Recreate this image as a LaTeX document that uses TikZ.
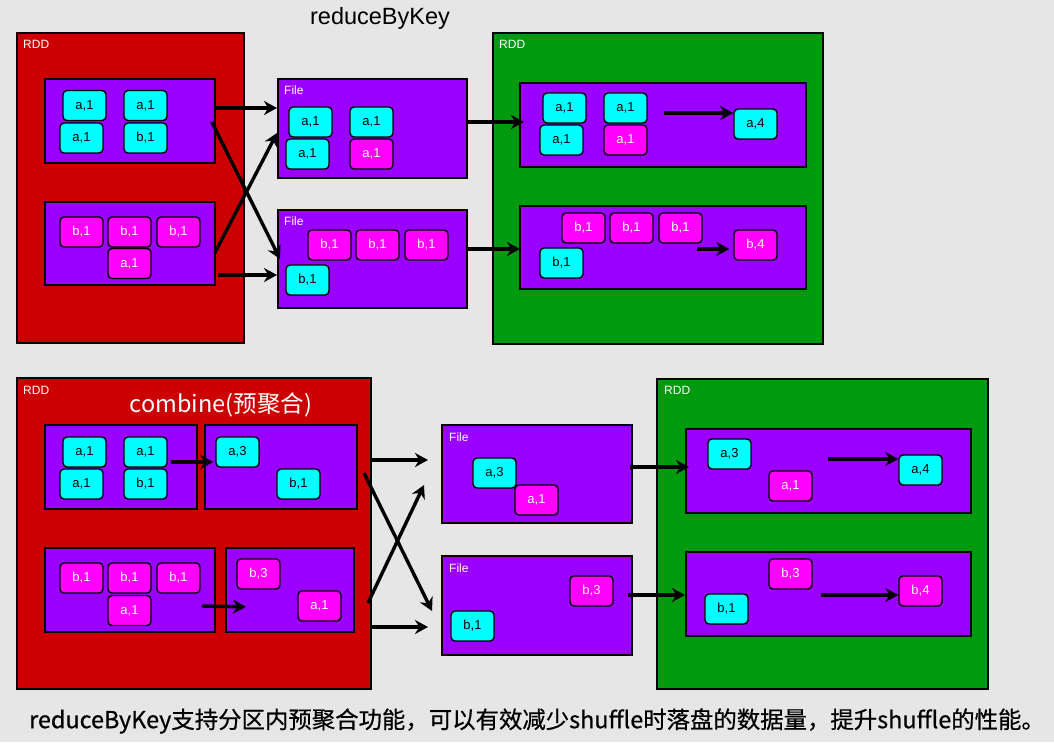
\documentclass[tikz,border=0pt]{standalone}
\usepackage{fontspec}
\setmainfont{Liberation Sans}
\newfontfamily\cjk{Noto Sans CJK SC}
\newfontfamily\cjkb[FakeBold=0.6]{Noto Sans CJK SC}
\usetikzlibrary{arrows.meta,calc}
\definecolor{bg}{HTML}{E6E6E6}
\definecolor{rddred}{HTML}{CC0000}
\definecolor{rddgreen}{HTML}{009A0F}
\definecolor{purp}{HTML}{9900FF}
\definecolor{cy}{HTML}{00FFFF}
\definecolor{mg}{HTML}{FF00FF}
\newcommand\bx[6]{\node[#1, minimum width=#4pt, minimum height=#5pt] (#6) at (#2,#3) {};}
\newcommand\cc[4]{\node[chipC] (#1) at (#2,#3) {#4};}
\newcommand\cm[4]{\node[chipM] (#1) at (#2,#3) {#4};}
\begin{document}
\begin{tikzpicture}[x=1pt,y=-1pt,
  redbox/.style={draw=black,line width=2pt,fill=rddred,anchor=north west,inner sep=0pt},
  greenbox/.style={draw=black,line width=2pt,fill=rddgreen,anchor=north west,inner sep=0pt},
  partbox/.style={draw=black,line width=1.8pt,fill=purp,anchor=north west,inner sep=0pt},
  chipC/.style={draw=black,line width=1.4pt,rounded corners=4pt,fill=cy,text=black,
    minimum width=43pt,minimum height=30pt,inner sep=0pt,font=\fontsize{13}{14}\selectfont},
  chipM/.style={chipC,fill=mg,text=white},
  lbl/.style={text=white,anchor=west,inner sep=0pt,font=\fontsize{12}{13}\selectfont},
  arr/.style={line width=3.4pt,-{Stealth[length=13pt,width=14pt]}},
]
\fill[bg] (0,0) rectangle (1054,742);
\useasboundingbox (0,0) rectangle (1054,742);

% ---------- top ----------
\node (title) at (380,18) {\fontsize{23.5}{26}\selectfont reduceByKey};
\bx{redbox}{16}{32}{227}{310}{R1}
\node[lbl] (R1l) at (23,44) {RDD};
\bx{partbox}{44}{78}{170}{84}{p1}
\bx{partbox}{44}{201}{170}{83}{p2}
\bx{partbox}{277}{78}{189}{99}{f1}
\node[lbl] (f1l) at (284,90) {File};
\bx{partbox}{277}{209}{189}{98}{f2}
\node[lbl] (f2l) at (284,221) {File};
\bx{greenbox}{492}{32}{330}{311}{G1}
\node[lbl] (G1l) at (499,44) {RDD};
\bx{partbox}{519}{82}{286}{84}{g1}
\bx{partbox}{519}{205}{286}{83}{g2}

\cc{pa}{84.5}{105.5}{a,1}
\cc{pb}{145.5}{105.5}{a,1}
\cc{pc}{81.5}{138}{a,1}
\cc{pd}{145.5}{138}{b,1}
\cm{qa}{81.5}{232}{b,1}
\cm{qb}{129.5}{232}{b,1}
\cm{qc}{178.5}{232}{b,1}
\cm{qd}{129.5}{263.5}{a,1}

\cc{fa}{310.5}{122}{a,1}
\cc{fb}{371.5}{122}{a,1}
\cc{fc}{307.5}{154}{a,1}
\cm{fd}{371.5}{154}{a,1}
\cm{ga}{329.5}{245}{b,1}
\cm{gb}{377.5}{245}{b,1}
\cm{gc}{426.5}{245}{b,1}
\cc{gd}{307.5}{280}{b,1}

\cc{ha}{564.5}{108}{a,1}
\cc{hb}{625.5}{108}{a,1}
\cc{hc}{561.5}{140}{a,1}
\cm{hd}{625.5}{140}{a,1}
\cc{he}{755.5}{124}{a,4}
\cm{ia}{583.5}{228}{b,1}
\cm{ib}{631.5}{228}{b,1}
\cm{ic}{680.5}{228}{b,1}
\cc{id}{561.5}{263}{b,1}
\cm{ie}{755.5}{245}{b,4}

\draw[arr] ([yshift=-30pt]p1.north east) -- ([yshift=-30pt]f1.north west);
\draw[arr] ([xshift=-4pt,yshift=-44pt]p1.north east) -- ([xshift=3pt,yshift=-50pt]f2.north west);
\draw[arr] ([xshift=-1pt,yshift=-52pt]p2.north east) -- ([yshift=-55pt]f1.north west);
\draw[arr] ([xshift=2pt,yshift=-74pt]p2.north east) -- ([yshift=-66pt]f2.north west);
\draw[arr] ([yshift=-44pt]f1.north east) -- ([xshift=5pt,yshift=-40pt]g1.north west);
\draw[arr] ([yshift=-40pt]f2.north east) -- ([xshift=1pt,yshift=-44pt]g2.north west);
\draw[arr] ([xshift=16pt,yshift=-5pt]hb.east) -- ([yshift=11pt]he.west);
\coordinate (g2s) at (697,249);
\draw[arr] (g2s) -- ([xshift=-4pt,yshift=-4pt]ie.west);

% ---------- bottom ----------
\bx{redbox}{16}{377}{354}{311}{R2}
\node[lbl] (R2l) at (23,390) {RDD};
\node[text=white] (comb) at (221,405) {\cjk\fontsize{23.5}{25}\selectfont combine(预聚合)};
\bx{partbox}{44}{424}{152}{84}{A}
\bx{partbox}{204}{424}{152}{84}{B}
\bx{partbox}{44}{547}{170}{84}{C}
\bx{partbox}{225}{547}{128}{84}{D}
\bx{partbox}{441}{424}{190}{98}{F1}
\node[lbl] (F1l) at (449,437) {File};
\bx{partbox}{441}{555}{190}{99}{F2}
\node[lbl] (F2l) at (449,568) {File};
\bx{greenbox}{656}{378}{331}{310}{G2}
\node[lbl] (G2l) at (664,390) {RDD};
\bx{partbox}{685}{428}{285}{84}{h1}
\bx{partbox}{685}{551}{285}{84}{h2}

\cc{Aa}{84.5}{452}{a,1}
\cc{Ab}{145.5}{452}{a,1}
\cc{Ac}{81.5}{484}{a,1}
\cc{Ad}{145.5}{484}{b,1}
\cc{Ba}{237.5}{452}{a,3}
\cc{Bb}{298.5}{484}{b,1}
\cm{Ca}{81.5}{578}{b,1}
\cm{Cb}{129.5}{578}{b,1}
\cm{Cc}{178.5}{578}{b,1}
\cm{Cd}{129.5}{610.5}{a,1}
\cm{Da}{258.5}{574}{b,3}
\cm{Db}{319.5}{606}{a,1}

\cc{Fa}{494.5}{473}{a,3}
\cm{Fb}{536.5}{500}{a,1}
\cm{Fc}{591.5}{591}{b,3}
\cc{Fd}{472.5}{626}{b,1}

\cc{Ha}{729.5}{454}{a,3}
\cm{Hb}{790.5}{486}{a,1}
\cc{Hc}{920.5}{470}{a,4}
\cm{Ia}{790.5}{574}{b,3}
\cc{Ib}{726.5}{609}{b,1}
\cm{Ic}{920.5}{591}{b,4}

\draw[arr] ([xshift=3pt,yshift=-10pt]Ab.east) -- ([xshift=-2pt,yshift=-10pt]Ba.west);
\coordinate (cs) at (202,606);
\draw[arr] (cs) -- ([xshift=21pt,yshift=-17pt]D.west);
\draw[arr] ([yshift=-83pt]R2.north east) -- ([xshift=-13pt,yshift=-36pt]F1.north west);
\draw[arr] ([xshift=-8pt,yshift=-96pt]R2.north east) -- ([xshift=-9pt,yshift=-56pt]F2.north west);
\draw[arr] ([xshift=-4pt,yshift=-226pt]R2.north east) -- ([xshift=-17pt,yshift=-61pt]F1.north west);
\draw[arr] ([yshift=-250pt]R2.north east) -- ([xshift=-13pt,yshift=-72pt]F2.north west);
\draw[arr] ([xshift=-3pt,yshift=-43pt]F1.north east) -- ([xshift=4pt,yshift=-39pt]h1.north west);
\draw[arr] ([xshift=-5pt,yshift=-40pt]F2.north east) -- ([yshift=-44pt]h2.north west);
\coordinate (h1s) at (828,459);
\draw[arr] (h1s) -- ([yshift=11pt]Hc.west);
\coordinate (h2s) at (821,595);
\draw[arr] (h2s) -- ([yshift=-4pt]Ic.west);

\node (cap) at (537,721) {\cjkb\fontsize{23.4}{25}\selectfont reduceByKey支持分区内预聚合功能，可以有效减少shuffle时落盘的数据量，提升shuffle的性能。};
\end{tikzpicture}
\end{document}
